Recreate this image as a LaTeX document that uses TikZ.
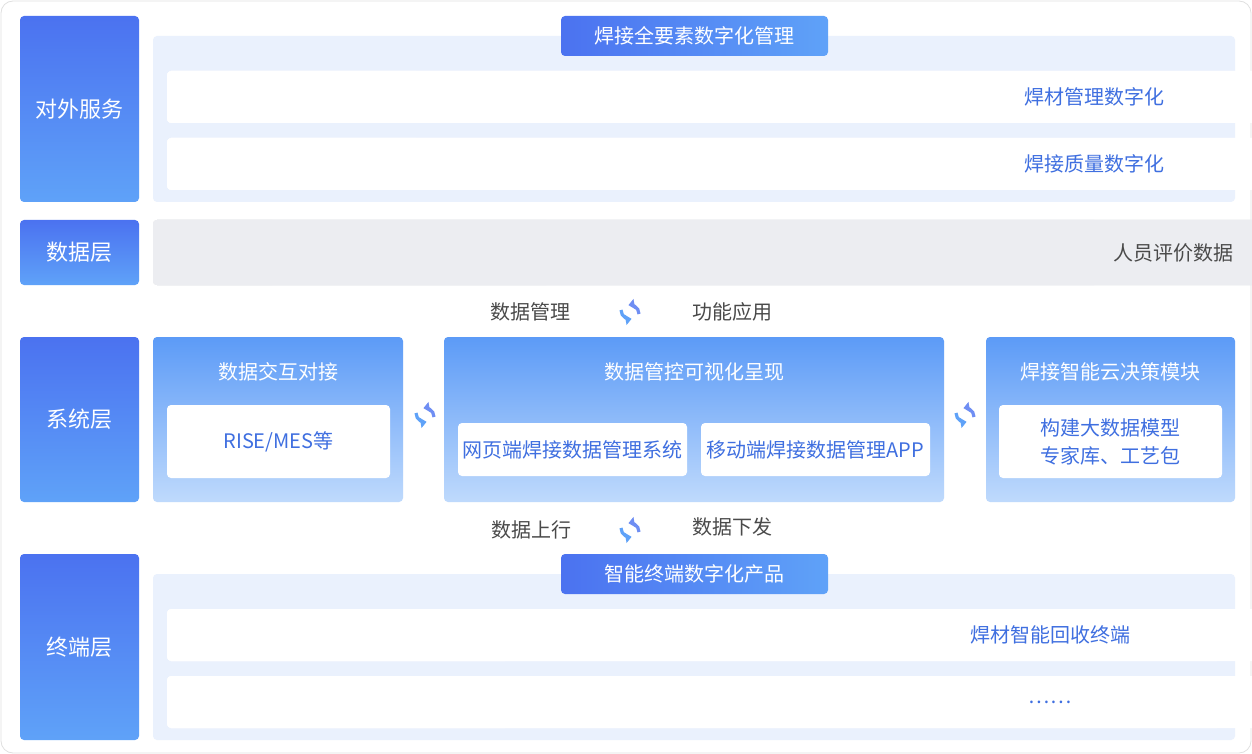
\documentclass[tikz,border=0pt]{standalone}
\usepackage{fontspec}
\setmainfont{Noto Sans CJK SC}
\usetikzlibrary{positioning}
\usetikzlibrary{calc}
\usetikzlibrary{arrows.meta}
\definecolor{deepblue}{HTML}{4B72F0}
\definecolor{lightblue}{HTML}{5FA2F8}
\definecolor{panelbg}{HTML}{EAF1FD}
\definecolor{graybox}{HTML}{ECEDF1}
\definecolor{bluetext}{HTML}{3F6FE0}
\definecolor{graytext}{HTML}{4A4A4A}

\tikzset{
  layerlabel/.style={rounded corners=2pt,top color=deepblue,bottom color=lightblue,text=white,font=\fontsize{11}{13}\selectfont},
  tabbox/.style={rounded corners=2pt,left color=deepblue,right color=lightblue,text=white,font=\fontsize{10}{12}\selectfont},
  panel/.style={rounded corners=2pt,fill=panelbg},
  syspanel/.style={rounded corners=2pt,top color=lightblue!85!deepblue,bottom color=lightblue!40,text=white},
  whitebox/.style={rounded corners=2pt,fill=white,text=bluetext,font=\fontsize{10}{14}\selectfont,align=center},
  databox/.style={rounded corners=2pt,fill=graybox,text=graytext,font=\fontsize{10}{12}\selectfont},
  midtext/.style={text=graytext,font=\fontsize{10}{12}\selectfont},
  cycle arrow/.style={line width=1.6pt,-{Triangle[length=3pt,width=5pt]}},
}
% box from pixel corners
\newcommand{\pxbox}[6]{\node[#1,minimum width={(#4-#2)*0.5pt},minimum height={(#5-#3)*0.5pt},inner sep=0pt]
  (#6) at ({(#2+#4)/2},{(#3+#5)/2}) {};}
\newcommand{\swapicon}[2]{%
  \draw[cycle arrow,draw=lightblue] ($(#1)+(-9,-2)$) arc (180:80:9);
  \draw[cycle arrow,draw=deepblue!80] ($(#1)+(9,2)$) arc (0:-100:9);
  \coordinate (#2) at (#1);}

\begin{document}
\begin{tikzpicture}[x=0.5pt,y=-0.5pt]
\useasboundingbox (0,0) rectangle (1252,754);
\draw[rounded corners=6pt,draw=black!12,fill=white] (1,1) rectangle (1251,753);

% layer labels
\pxbox{layerlabel}{20}{16}{139}{202}{outer}
\node[text=white,font=\fontsize{11}{13}\selectfont] at (outer) {对外服务};
\pxbox{layerlabel}{20}{220}{139}{285}{data}
\node[text=white,font=\fontsize{11}{13}\selectfont] at (data) {数据层};
\pxbox{layerlabel}{20}{337}{139}{502}{sys}
\node[text=white,font=\fontsize{11}{13}\selectfont] at (sys) {系统层};
\pxbox{layerlabel}{20}{554}{139}{740}{term}
\node[text=white,font=\fontsize{11}{13}\selectfont] at (term) {终端层};

% outer services
\pxbox{panel}{153}{36}{1235}{202}{servpanel}
\pxbox{tabbox}{561}{16}{828}{56}{servtab}
\node[text=white,font=\fontsize{10}{12}\selectfont] at (servtab) {焊接全要素数字化管理};
\foreach \t [count=\i from 0] in {焊口管理数字化,焊工管理数字化,设备管理数字化,焊材管理数字化}{
  \pxbox{whitebox}{167+267*\i}{71}{420+267*\i}{123}{sa\i}
  \node[text=bluetext,font=\fontsize{10}{12}\selectfont] at (sa\i) {\t};
}
\foreach \t [count=\i from 0] in {工艺管理数字化,环境参数数字化,过程参数数字化,焊接质量数字化}{
  \pxbox{whitebox}{167+267*\i}{138}{420+267*\i}{190}{sb\i}
  \node[text=bluetext,font=\fontsize{10}{12}\selectfont] at (sb\i) {\t};
}

% data layer
\foreach \t [count=\i from 0] in {焊口中心,焊工中心,设备中心,焊材中心,工艺中心,施工环境数据,焊接过程数据,人员评价数据}{
  \pxbox{databox}{153+137*\i}{220}{276+137*\i}{285}{d\i}
  \node[text=graytext,font=\fontsize{10}{12}\selectfont] at (d\i) {\t};
}

\node[midtext] (mgmt) at (530,312) {数据管理};
\swapicon{630,312}{sw1}
\node[midtext] (func) at (732,312) {功能应用};

% system layer
\pxbox{syspanel}{153}{337}{403}{502}{sysl}
\node[text=white,font=\fontsize{10}{12}\selectfont] at (278,372) {数据交互对接};
\pxbox{whitebox}{167}{405}{390}{478}{rise}
\node[text=bluetext,font=\fontsize{10}{12}\selectfont] at (rise) {RISE/MES等};
\swapicon{425,415}{sw2}
\pxbox{syspanel}{444}{337}{944}{502}{sysm}
\node[text=white,font=\fontsize{10}{12}\selectfont] at (694,372) {数据管控可视化呈现};
\pxbox{whitebox}{458}{423}{687}{476}{web}
\node[text=bluetext,font=\fontsize{10}{12}\selectfont] at (web) {网页端焊接数据管理系统};
\pxbox{whitebox}{701}{423}{930}{476}{app}
\node[text=bluetext,font=\fontsize{10}{12}\selectfont] at (app) {移动端焊接数据管理APP};
\swapicon{965,415}{sw3}
\pxbox{syspanel}{986}{337}{1235}{502}{sysr}
\node[text=white,font=\fontsize{10}{12}\selectfont] at (1110,372) {焊接智能云决策模块};
\pxbox{whitebox}{999}{405}{1222}{478}{cloud}
\node[text=bluetext,font=\fontsize{10}{14}\selectfont,align=center] at (cloud) {构建大数据模型\\专家库、工艺包};

\node[midtext] (up) at (531,530) {数据上行};
\swapicon{630,530}{sw4}
\node[midtext] (down) at (732,527) {数据下发};

% terminal layer
\pxbox{panel}{153}{574}{1235}{740}{termpanel}
\pxbox{tabbox}{561}{554}{828}{594}{termtab}
\node[text=white,font=\fontsize{10}{12}\selectfont] at (termtab) {智能终端数字化产品};
\foreach \t [count=\i from 0] in {焊机物联网模块,焊材智能发放终端,焊材智能回收终端}{
  \pxbox{whitebox}{167+356*\i}{609}{509+356*\i}{661}{ta\i}
  \node[text=bluetext,font=\fontsize{10}{12}\selectfont] at (ta\i) {\t};
}
\foreach \t [count=\i from 0] in {焊接测温模块,智能氩气表,……}{
  \pxbox{whitebox}{167+356*\i}{676}{509+356*\i}{728}{tb\i}
  \node[text=bluetext,font=\fontsize{10}{12}\selectfont] at (tb\i) {\t};
}
\end{tikzpicture}
\end{document}
